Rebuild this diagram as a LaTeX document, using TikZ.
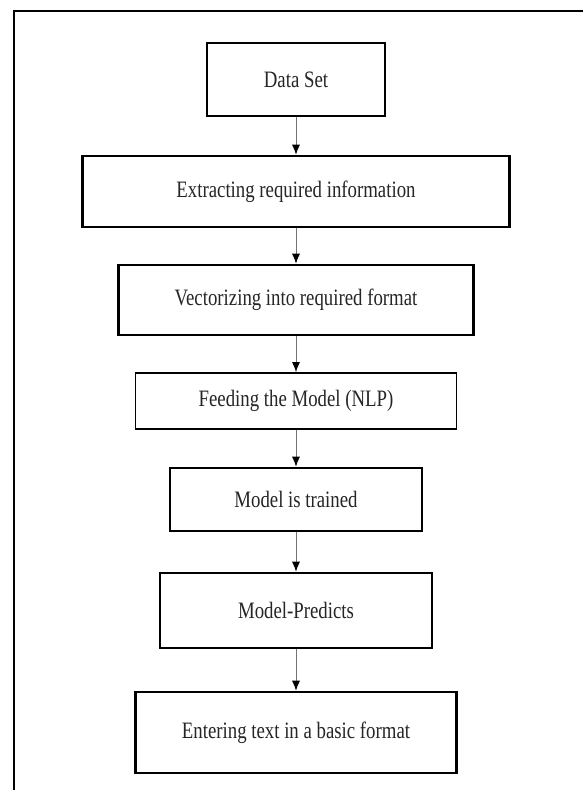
\documentclass[tikz,border=0pt]{standalone}
\usepackage{fontspec}
\setmainfont[FakeStretch=0.8]{Liberation Serif}
\usepackage{tikz}
\usetikzlibrary{positioning,arrows.meta}

\begin{document}
\begin{tikzpicture}[x=1pt,y=-1pt,
  stage/.style={draw=black,line width=2.6pt,fill=white,inner sep=0pt,text=black!85,font=\fontsize{23.5}{26}\selectfont},
  thinstage/.style={stage,line width=1.8pt},
  flow/.style={draw=black!55,line width=0.9pt,-{Latex[black,length=10pt,width=8pt]}}]
\useasboundingbox (0,0) rectangle (583,790);
\clip (0,0) rectangle (583,790);
% outer frame
\draw [line width = 1.8pt] (14,811) -- (14,11) -- (600,11);
\node (dataset) at (296,79.5) [stage,minimum width=178pt,minimum height=73pt] {Data Set};
\node (extract) at (296,191.5) [stage,minimum width=427pt,minimum height=71pt] {Extracting required information};
\node (vector) at (296,300) [stage,minimum width=355pt,minimum height=70pt] {Vectorizing into required format};
\node (feed) at (296,401) [thinstage,minimum width=321pt,minimum height=56pt] {Feeding the Model (NLP)};
\node (trained) at (296,499.5) [stage,minimum width=252pt,minimum height=63pt] {Model is trained};
\node (predict) at (296,610.5) [stage,minimum width=272pt,minimum height=75pt] {Model-Predicts};
\node (enter) at (296,732.5) [stage,minimum width=321pt,minimum height=81pt] {Entering text in a basic format};
\draw [flow] (dataset) -- (extract);
\draw [flow] (extract) -- (vector);
\draw [flow] (vector) -- (feed);
\draw [flow] (feed) -- (trained);
\draw [flow] (trained) -- (predict);
\draw [flow] (predict) -- (enter);
\end{tikzpicture}
\end{document}
